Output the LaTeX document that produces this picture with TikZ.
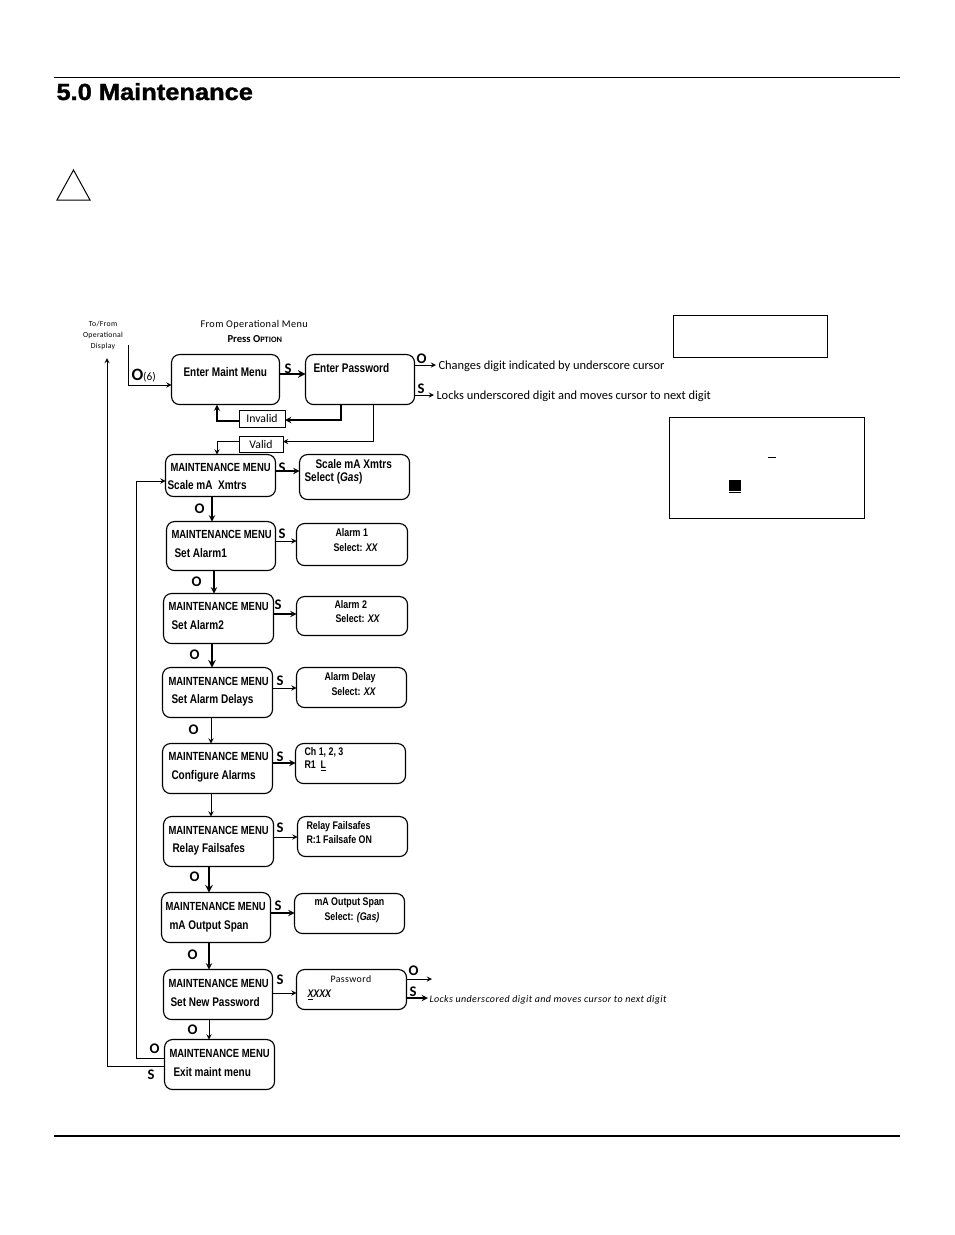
\documentclass[tikz,border=0pt]{standalone}
\usepackage{fontspec}
\setmainfont{Carlito}
\newfontfamily\boxfont[FakeStretch=0.8]{Liberation Sans}
\newfontfamily\titlefont[FakeStretch=1.09,FakeBold=1.4]{Liberation Sans}
\newfontfamily\spacedfont[LetterSpace=4]{Carlito}
\tikzset{every picture/.style={line width=0.75pt}}
\tikzset{
  menubox/.style={draw,rounded corners=6pt,anchor=north west,inner sep=0pt,outer sep=0pt,line width=0.85pt,xshift=0.4pt,yshift=-0.4pt},
  plainbox/.style={draw,anchor=north west,inner sep=0pt,outer sep=0pt,font=\fontsize{8.8}{10}\selectfont},
  menutext/.style={anchor=base west,inner sep=0pt,font=\boxfont\bfseries\fontsize{9.4}{11}\selectfont},
  headtext/.style={anchor=base west,inner sep=0pt,font=\boxfont\bfseries\fontsize{8.85}{11}\selectfont},
  subtext/.style={anchor=base west,inner sep=0pt,font=\boxfont\bfseries\fontsize{8.3}{9}\selectfont},
  keytext/.style={anchor=base west,inner sep=0pt,font=\bfseries\fontsize{11}{13}\selectfont},
  notetext/.style={anchor=base west,inner sep=0pt,font=\fontsize{9.33}{11}\selectfont},
  smalltext/.style={anchor=base,inner sep=0pt,font=\spacedfont\fontsize{5.8}{7}\selectfont},
  flowline/.style={-stealth},
}
\begin{document}
\begin{tikzpicture}[x=0.75pt,y=0.75pt,yscale=-1,xscale=1,>=stealth]
\useasboundingbox (0,0) rectangle (954,1235);

% page head
\coordinate (headl) at (54,77);
\coordinate (headr) at (900,77);
\coordinate (footl) at (54,1136);
\coordinate (footr) at (900,1136);
\draw (headl) -- (headr);
\draw [line width=1.5pt] (footl) -- (footr);
\node (title) [anchor=base west,inner sep=0pt,font=\titlefont\bfseries\fontsize{17.5}{20}\selectfont] at (56,100) {5.0 Maintenance};
\draw (57,200) -- (90,200) -- (73.5,170) -- cycle;

% left column
\node (entermenu) [menubox,minimum width=108*0.75pt,minimum height=50*0.75pt] at (171,354) {};
\node (scalemenu) [menubox,minimum width=110*0.75pt,minimum height=42*0.75pt] at (165,454) {};
\node (alarmone) [menubox,minimum width=109*0.75pt,minimum height=49*0.75pt] at (166,521) {};
\node (alarmtwo) [menubox,minimum width=110*0.75pt,minimum height=50*0.75pt] at (163,593) {};
\node (delaymenu) [menubox,minimum width=110*0.75pt,minimum height=50*0.75pt] at (162,667) {};
\node (configmenu) [menubox,minimum width=110*0.75pt,minimum height=50*0.75pt] at (162,743) {};
\node (relaymenu) [menubox,minimum width=110*0.75pt,minimum height=50*0.75pt] at (163,816) {};
\node (spanmenu) [menubox,minimum width=109*0.75pt,minimum height=50*0.75pt] at (161,892) {};
\node (newpwmenu) [menubox,minimum width=109*0.75pt,minimum height=50*0.75pt] at (163,969) {};
\node (exitmenu) [menubox,minimum width=110*0.75pt,minimum height=50*0.75pt] at (164,1039) {};

% right column
\node (enterpw) [menubox,minimum width=109*0.75pt,minimum height=50*0.75pt] at (305,354) {};
\node (scalesel) [menubox,minimum width=110*0.75pt,minimum height=45*0.75pt] at (299,454) {};
\node (alarmonesel) [menubox,minimum width=111*0.75pt,minimum height=42*0.75pt] at (296,523) {};
\node (alarmtwosel) [menubox,minimum width=111*0.75pt,minimum height=39*0.75pt] at (296,596) {};
\node (delaysel) [menubox,minimum width=110*0.75pt,minimum height=40*0.75pt] at (296,667) {};
\node (configsel) [menubox,minimum width=110*0.75pt,minimum height=40*0.75pt] at (295,743) {};
\node (relaysel) [menubox,minimum width=110*0.75pt,minimum height=40*0.75pt] at (297,816) {};
\node (spansel) [menubox,minimum width=110*0.75pt,minimum height=40*0.75pt] at (294,893) {};
\node (pwsel) [menubox,minimum width=110*0.75pt,minimum height=40*0.75pt] at (296,969) {};

% plain boxes
\node (invalid) [plainbox,minimum width=46*0.75pt,minimum height=17*0.75pt] at (239,410) {Invalid};
\node (valid) [plainbox,minimum width=44*0.75pt,minimum height=16*0.75pt] at (239,436) {Valid};
\node (legendtop) [plainbox,minimum width=154.5*0.75pt,minimum height=42.5*0.75pt] at (673,315) {};
\node (legendbot) [plainbox,minimum width=195.5*0.75pt,minimum height=101.5*0.75pt] at (669,417) {};
\fill (729,480) rectangle (741,491);
\draw (729,492.5) -- (741,492.5);
\draw (768,457) -- (776,457);

% box texts
\node (tentermenu) [menutext] at (183,376) {Enter Maint Menu};
\node (tenterpw) [menutext] at (313,372) {Enter Password};
\foreach \nam/\xa/\ya/\xb/\yb/\sub in {
    scale/170/471/167/489/{Scale mA\ \ Xmtrs},
    one/171/538/174/557/Set Alarm1,
    two/168/610/171/629/Set Alarm2,
    delay/168/685/171/703/Set Alarm Delays,
    conf/168/760/171/779/Configure Alarms,
    relay/168/834/172/852/Relay Failsafes,
    span/165/910/169/929/mA Output Span,
    newpw/168/987/170/1006/Set New Password,
    exit/169/1057/173/1076/Exit maint menu}
  {
  \node (mm\nam) [headtext] at (\xa,\ya) {MAINTENANCE MENU};
  \node (sub\nam) [menutext] at (\xb,\yb) {\sub};
  }
\node (tscalea) [menutext] at (315,468) {Scale mA Xmtrs};
\node (tscaleb) [menutext] at (304,481) {Select (\textit{Gas})};
\node (talarma) [subtext] at (335,536) {Alarm 1};
\node (talarmb) [subtext] at (333,551) {Select: \textit{XX}};
\node (talarmc) [subtext] at (334,608) {Alarm 2};
\node (talarmd) [subtext] at (335,622) {Select: \textit{XX}};
\node (tdelaya) [subtext] at (324,680) {Alarm Delay};
\node (tdelayb) [subtext] at (331,695) {Select: \textit{XX}};
\node (tconfa) [subtext] at (304,755) {Ch 1, 2, 3};
\node (tconfb) [subtext] at (304,768) {R1\ \ \underline{L}};
\node (trelaya) [subtext] at (306,829) {Relay Failsafes};
\node (trelayb) [subtext] at (306,843) {R:1 Failsafe ON};
\node (tspana) [subtext] at (314,905) {mA Output Span};
\node (tspanb) [subtext] at (324,920) {Select: \textit{(Gas)}};
\node (tpwa) [anchor=base west,inner sep=0pt,font=\spacedfont\fontsize{7.4}{9}\selectfont] at (330,982) {Password};
\node (tpwb) [subtext] at (307,997) {\textit{\underline{X}XXX}};

% notes
\node (tofroma) [smalltext] at (103,326) {To/From};
\node (tofromb) [smalltext] at (103,337) {Operational};
\node (tofromc) [smalltext] at (103,348) {Display};
\node (fromop) [anchor=base west,inner sep=0pt,font=\spacedfont\fontsize{7.7}{9}\selectfont] at (200,327) {From Operational Menu};
\node (pressopt) [anchor=base west,inner sep=0pt,font=\bfseries\fontsize{8}{9}\selectfont] at (227,342) {Press O\textsc{\fontsize{6.2}{7}\selectfont PTION}};
\node (notechg) [notetext] at (438,369) {Changes digit indicated by underscore cursor};
\node (notelock) [notetext] at (436,399) {Locks underscored digit and moves cursor to next digit};
\node (notelockb) [anchor=base west,inner sep=0pt,font=\spacedfont\itshape\fontsize{7.5}{9}\selectfont] at (429,1002) {Locks underscored digit and moves cursor to next digit};

% key letters
\node (kosix) [keytext] at (131,380) {\fontsize{13}{14}\selectfont O\textnormal{\fontsize{8.5}{10}\selectfont (6)}};
\foreach \nam/\lab/\xa/\ya in {
    sa/S/284/373, ob/O/416/363, sb/S/417/393, sc/S/278/472,
    sd/S/278/538, se/S/274/609, sf/S/276/685, sg/S/276/761,
    sh/S/276/832, si/S/274/910, sj/S/276/984, oc/O/408/975, sk/S/409/996,
    oa/O/194/513, od/O/191/586, oe/O/189/659, of/O/188/734,
    og/O/189/881, oh/O/187/959, oi/O/187/1034, oj/O/149/1053, sl/S/147/1079}
  {
  \node (k\nam) [keytext] at (\xa,\ya) {\lab};
  }

% menu to sub menu
\foreach \from/\to/\ypos/\wid in {
    entermenu/enterpw/374/1.5pt, scalemenu/scalesel/471/1.1pt,
    alarmone/alarmonesel/541/0.75pt, alarmtwo/alarmtwosel/614/1.1pt,
    delaymenu/delaysel/688/0.75pt, configmenu/configsel/763/1.1pt,
    relaymenu/relaysel/837/0.75pt, spanmenu/spansel/913/1.1pt,
    newpwmenu/pwsel/993/0.75pt}
  {
  \draw [flowline,line width=\wid] (\from.east |- 0,\ypos) -- (\to.west |- 0,\ypos);
  }

% menu to next menu
\foreach \from/\to/\xpos/\wid in {
    scalemenu/alarmone/212/1.1pt, alarmone/alarmtwo/214/1.1pt,
    alarmtwo/delaymenu/212/1.5pt, delaymenu/configmenu/211/0.75pt,
    configmenu/relaymenu/211/0.75pt, relaymenu/spanmenu/209/1.5pt,
    spanmenu/newpwmenu/209/1.1pt, newpwmenu/exitmenu/209/0.75pt}
  {
  \draw [flowline,line width=\wid] (\from.south -| \xpos,0) -- (\to.north -| \xpos,0);
  }

% password branches
\draw [flowline,line width=1.1pt] (enterpw.south -| 341,0) -- (341,420) -- (invalid.east |- 0,420);
\draw [flowline,line width=1.1pt] (invalid.west |- 0,421) -- (217,421) -- (entermenu.south -| 217,0);
\draw [flowline] (enterpw.south -| 373,0) -- (373,441.5) -- (valid.east |- 0,441.5);
\draw [flowline] (valid.west |- 0,441) -- (217,441) -- (scalemenu.north -| 217,0);

% side lines
\draw [flowline] (128,345) -- (128,385) -- (entermenu.west |- 0,385);
\draw [flowline] (exitmenu.west |- 0,1058) -- (136,1058) -- (136,481) -- (scalemenu.west |- 0,481);
\draw [flowline] (exitmenu.west |- 0,1066) -- (107,1066) -- (107,358);

% free ends
\coordinate (endchg) at (436,365);
\coordinate (endlock) at (434,395);
\coordinate (endpwo) at (432,979);
\coordinate (endpws) at (428,998);
\draw [flowline] (enterpw.east |- endchg) -- (endchg);
\draw [flowline] (enterpw.east |- endlock) -- (endlock);
\draw [flowline] (pwsel.east |- endpwo) -- (endpwo);
\draw [flowline,line width=1.1pt] (pwsel.east |- endpws) -- (endpws);

\end{tikzpicture}
\end{document}
